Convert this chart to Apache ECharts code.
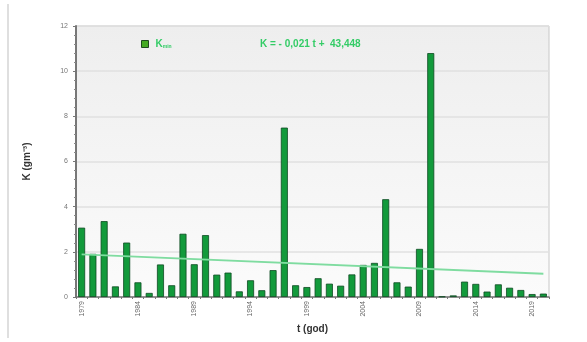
<!DOCTYPE html>
<html>
<head>
<meta charset="utf-8">
<script src="https://cdn.jsdelivr.net/npm/echarts@6/dist/echarts.min.js"></script>
<style>html,body{margin:0;padding:0;background:#fff;}#c{width:587px;height:342px;}</style>
</head>
<body>
<div id="c"></div>
<script>
var years = [];
for (var y = 1979; y <= 2020; y++) years.push(String(y));
var kMin = [3.07, 1.91, 3.36, 0.47, 2.41, 0.65, 0.18, 1.44, 0.52, 2.80,
            1.45, 2.74, 0.99, 1.08, 0.25, 0.74, 0.30, 1.19, 7.50, 0.52,
            0.44, 0.83, 0.59, 0.50, 1.00, 1.42, 1.51, 4.33, 0.65, 0.46,
            2.13, 10.80, 0.02, 0.07, 0.68, 0.58, 0.24, 0.56, 0.41, 0.31,
            0.13, 0.15];
var trendEnds = [1.89, 1.03];
var equationText = 'K = - 0,021 t +  43,448';
var yTicks = [0, 2, 4, 6, 8, 10, 12];

var trend = years.map(function (_, i) {
  if (i === 0) return trendEnds[0];
  if (i === years.length - 1) return trendEnds[1];
  return null;
});

var chart = echarts.init(document.getElementById('c'), null, {renderer: 'canvas'});
chart.setOption({
  animation: false,
  backgroundColor: '#ffffff',
  textStyle: {fontFamily: 'Liberation Sans, Arial, sans-serif'},
  grid: {
    left: 76, right: 38, top: 26, bottom: 45,
    show: true, borderColor: '#c8c8c8', borderWidth: 1,
    backgroundColor: {
      type: 'linear', x: 0, y: 0, x2: 0, y2: 1,
      colorStops: [{offset: 0, color: '#eeeeee'}, {offset: 1, color: '#fbfbfb'}]
    }
  },
  title: {
    text: equationText,
    left: 255, top: 34,
    textStyle: {color: '#33cc66', fontSize: 10, fontWeight: 'bold'}
  },
  legend: {
    left: 136, top: 34,
    itemWidth: 7, itemHeight: 7, itemGap: 4,
    data: [{name: 'K', icon: 'rect', itemStyle: {color: '#44aa22', borderColor: '#1e4a1e', borderWidth: 1}}],
    formatter: function () { return '{a|K}{b|min}'; },
    textStyle: {
      color: '#33cc66',
      rich: {
        a: {fontSize: 10, fontWeight: 'bold', color: '#33cc66', padding: [0, 0, 0, 2]},
        b: {fontSize: 5, fontWeight: 'bold', color: '#33cc66', verticalAlign: 'bottom', padding: [6, 0, 0, 0]}
      }
    }
  },
  graphic: [{
    type: 'line', shape: {x1: 8, y1: 4, x2: 8, y2: 338},
    style: {stroke: '#d4d4d4', lineWidth: 1.5}
  }],
  xAxis: {
    type: 'category',
    data: years,
    boundaryGap: true,
    name: 't (god)',
    nameLocation: 'middle',
    nameGap: 26,
    nameTextStyle: {fontSize: 10, fontWeight: 'bold', color: '#333'},
    axisLine: {lineStyle: {color: '#777', width: 1.5}},
    axisTick: {show: true, interval: 0, length: 2, lineStyle: {color: '#777'}},
    axisLabel: {interval: 4, rotate: 90, fontSize: 7, color: '#666', margin: 4}
  },
  yAxis: {
    type: 'value',
    min: yTicks[0], max: yTicks[yTicks.length - 1], interval: 2,
    name: 'K (gm\u207B\u00B3)',
    nameLocation: 'middle',
    nameGap: 44,
    nameRotate: 90,
    nameTextStyle: {fontSize: 10, fontWeight: 'bold', color: '#333'},
    axisLine: {show: true, lineStyle: {color: '#777', width: 2}},
    axisTick: {show: true, length: 3, lineStyle: {color: '#777'}},
    minorTick: {show: true, splitNumber: 5, length: 2, lineStyle: {color: '#888'}},
    axisLabel: {fontSize: 7, color: '#777', margin: 8},
    splitLine: {show: true, lineStyle: {color: '#e0e0e0', width: 1.5}}
  },
  series: [{
    name: 'K',
    type: 'bar',
    data: kMin,
    barWidth: 7,
    itemStyle: {color: '#129a3b', borderColor: '#0e4a22', borderWidth: 0.8}
  }, {
    name: 'trend',
    type: 'line',
    data: trend,
    connectNulls: true,
    symbol: 'none',
    lineStyle: {color: '#7fdca0', width: 1.8},
    z: 3
  }]
});
</script>
</body>
</html>
